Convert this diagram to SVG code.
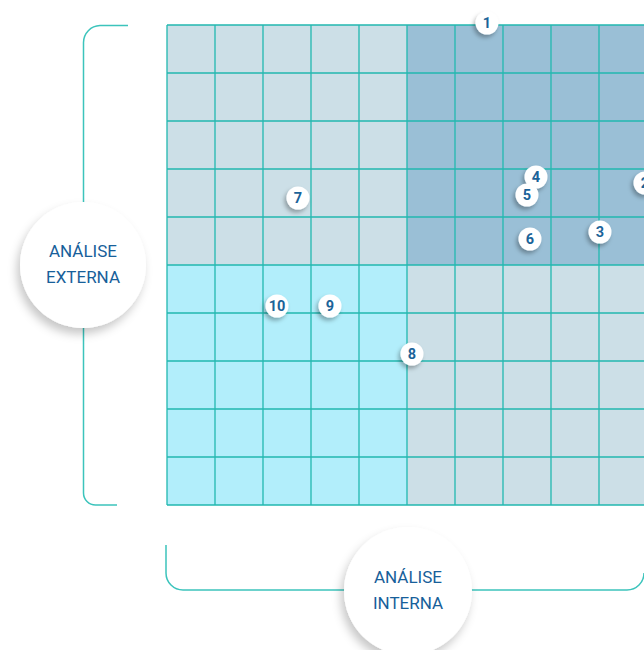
<svg xmlns="http://www.w3.org/2000/svg" width="644" height="650" viewBox="0 0 644 650">
<defs>
<style>
.cell-l{fill:#CCDFE7}
.cell-d{fill:#9ABFD6}
.cell-c{fill:#B2EEFB}
.grid{stroke:#22B8B0;stroke-width:1.3;fill:none}
.brk{stroke:#3CC4BC;stroke-width:1.5;fill:none}
.big{fill:#FFFFFF;filter:url(#sh)}
.badge{fill:#FFFFFF;filter:url(#sh2)}
.lbl{font-family:Roboto,"Liberation Sans",sans-serif;font-size:17px;font-weight:normal;fill:#17609A;text-anchor:middle}
.num{font-family:Roboto,"Liberation Sans",sans-serif;font-size:14.5px;font-weight:bold;fill:#1B6399;text-anchor:middle}
</style>
<filter id="sh" x="-30%" y="-30%" width="160%" height="170%">
<feDropShadow dx="-3" dy="6" stdDeviation="5" flood-color="#000" flood-opacity="0.22"/>
</filter>
<filter id="sh2" x="-50%" y="-50%" width="200%" height="200%">
<feDropShadow dx="-2" dy="3" stdDeviation="2" flood-color="#000" flood-opacity="0.3"/>
</filter>
</defs>
<rect width="644" height="650" fill="#FFFFFF"/>
<g id="grid">
<rect class="cell-l" x="167" y="25" width="240" height="240"/>
<rect class="cell-d" x="407" y="25" width="240" height="240"/>
<rect class="cell-c" x="167" y="265" width="240" height="240"/>
<rect class="cell-l" x="407" y="265" width="240" height="240"/>
<path class="grid" d="M167,25H647M167,73H647M167,121H647M167,169H647M167,217H647M167,265H647M167,313H647M167,361H647M167,409H647M167,457H647M167,505H647M167,25V505M215,25V505M263,25V505M311,25V505M359,25V505M407,25V505M455,25V505M503,25V505M551,25V505M599,25V505"/>
</g>
<g id="connectors">
<path class="brk" d="M128,25.5H100A17,17 0 0 0 83.5,42.5V493A12,12 0 0 0 95.5,505H117"/>
<path class="brk" d="M166,545V573A17,17 0 0 0 183,590H627A17,17 0 0 0 644,573"/>
</g>
<g id="externa">
<circle class="big" cx="83" cy="265" r="63"/>
<text class="lbl" x="83" y="257">ANÁLISE</text>
<text class="lbl" x="83" y="283">EXTERNA</text>
</g>
<g id="interna">
<circle class="big" cx="408" cy="591" r="64"/>
<text class="lbl" x="408" y="583">ANÁLISE</text>
<text class="lbl" x="408" y="609">INTERNA</text>
</g>
<g id="n1"><circle class="badge" cx="487" cy="23" r="11.5"/><text class="num" x="487" y="28">1</text></g>
<g id="n2"><circle class="badge" cx="645" cy="183" r="11.5"/><text class="num" x="645" y="188">2</text></g>
<g id="n3"><circle class="badge" cx="600" cy="232" r="11.5"/><text class="num" x="600" y="237">3</text></g>
<g id="n4"><circle class="badge" cx="536" cy="177" r="11.5"/><text class="num" x="536" y="182">4</text></g>
<g id="n5"><circle class="badge" cx="527" cy="195" r="11.5"/><text class="num" x="527" y="200">5</text></g>
<g id="n6"><circle class="badge" cx="530" cy="239" r="11.5"/><text class="num" x="530" y="244">6</text></g>
<g id="n7"><circle class="badge" cx="298" cy="198" r="11.5"/><text class="num" x="298" y="203">7</text></g>
<g id="n8"><circle class="badge" cx="412" cy="354" r="11.5"/><text class="num" x="412" y="359">8</text></g>
<g id="n9"><circle class="badge" cx="330" cy="306" r="11.5"/><text class="num" x="330" y="311">9</text></g>
<g id="n10"><circle class="badge" cx="277" cy="306" r="11.5"/><text class="num" x="277" y="311">10</text></g>
</svg>
